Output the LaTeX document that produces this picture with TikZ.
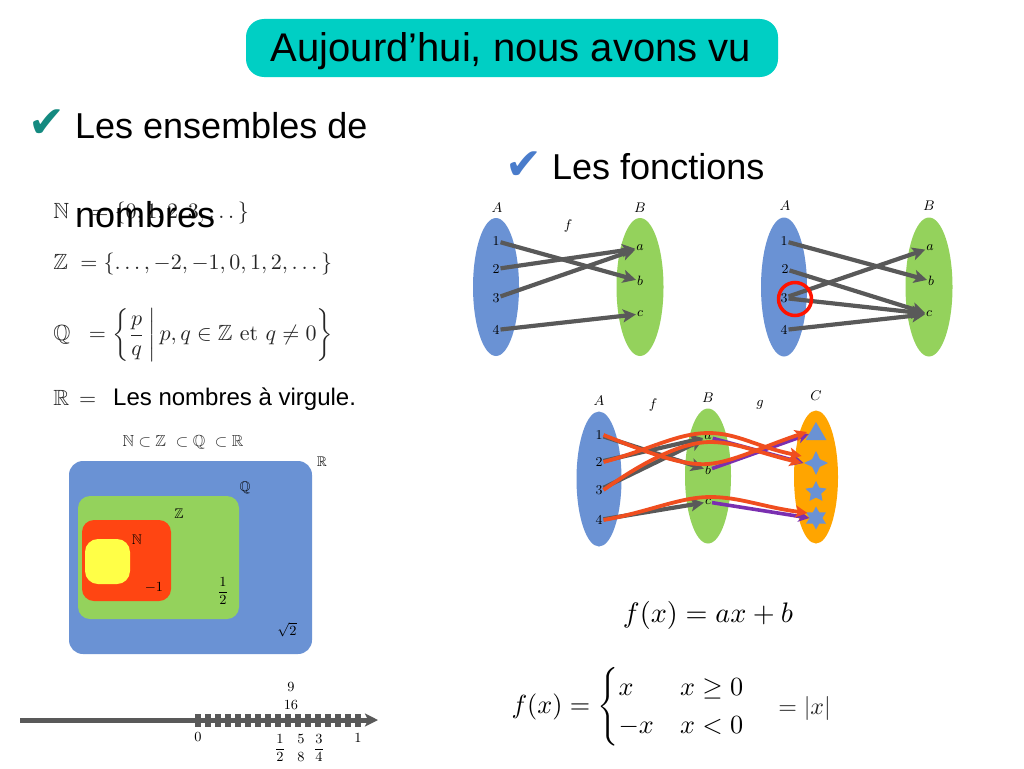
\documentclass[tikz,border=0pt]{standalone}
\usepackage{amsmath,amssymb}
\usepackage{fontspec}
\newfontfamily\arial{Liberation Sans}
\newfontfamily\dejavu{DejaVu Sans}
\usetikzlibrary{arrows.meta,shapes.geometric,shapes.misc,calc}
\definecolor{cblue}{HTML}{6A92D4}
\definecolor{cgreen}{HTML}{94D25C}
\definecolor{cred}{HTML}{FF4512}
\definecolor{cyel}{HTML}{FFFF47}
\definecolor{corange}{HTML}{FFA500}
\definecolor{cteal}{HTML}{00CFC4}
\definecolor{cgray}{HTML}{595959}
\definecolor{cpurple}{HTML}{7A2FB0}
\definecolor{cline}{HTML}{F04E1F}
\definecolor{ckteal}{HTML}{148A80}
\definecolor{ckblue}{HTML}{4A7CCB}
\tikzset{
  x=1pt,y=-1pt,
  setell/.style={ellipse,draw=none,minimum width=#1,inner sep=0pt},
  elt/.style={inner sep=0.5pt,scale=1.5,font=\small},
  lab/.style={inner sep=0pt,scale=1.55,font=\small},
  bigtext/.style={inner sep=0pt,anchor=base west,font=\arial\fontsize{36}{40}\selectfont},
  checkm/.style={inner sep=0pt,font=\dejavu\fontsize{44}{46}\selectfont},
  mathl/.style={inner sep=0pt,anchor=west,scale=2.2,text=black!85},
  flow/.style={line width=4.2pt,draw=cgray,-{Stealth[length=13pt,width=13pt,inset=3pt]}},
  flowp/.style={line width=3.6pt,draw=cpurple,-{Stealth[length=11pt,width=11pt,inset=3pt]}},
  flowr/.style={line width=3.8pt,draw=cline,-{Stealth[length=12pt,width=12pt,inset=3pt]}},
  area/.style={draw=none,inner sep=0pt,rounded corners=#1},
  setmark/.style={fill=cblue,draw=none,inner sep=0pt},
}
\begin{document}
\begin{tikzpicture}
\useasboundingbox (0,0) rectangle (1024,768);
\fill[white] (0,0) rectangle (1024,768);

% title
\node[fill=cteal,rounded corners=18pt,minimum width=532pt,minimum height=58pt,inner sep=0pt] (title) at (512,48) {};
\node[inner sep=0pt,font=\arial\fontsize{40}{44}\selectfont] (titletext) at (511,51) {Aujourd’hui, nous avons vu};

% left heading
\node[checkm,text=ckteal] (ck1) at (47,124) {✔};
\node[bigtext] (h1) at (75,138.5) {Les ensembles de};

% math list
\node[mathl] (mN) at (53,213) {$\mathbb{N}\;\;\,=\{0,1,2,3,\dots\}$};
\node[mathl] (mZ) at (53,264) {$\mathbb{Z}\;=\{\dots,-2,-1,0,1,2,\dots\}$};
\node[mathl] (mQ) at (53,335) {$\mathbb{Q}\;\;=\left\{\dfrac{p}{q}\,\middle|\,p,q\in\mathbb{Z}\ \mathrm{et}\ q\neq0\right\}$};
\node[mathl] (mR) at (53,398) {$\mathbb{R}\,=$};
\node[inner sep=0pt,anchor=west,font=\arial\fontsize{24}{28}\selectfont] (tR) at (113,399) {Les nombres à virgule.};
\node[bigtext] (h1b) at (75,227) {nombres};

% right heading
\node[checkm,text=ckblue] (ck2) at (524,166) {✔};
\node[bigtext] (h2) at (552,179.5) {Les fonctions};

% ---- diagram 1
\node[setell=46pt,minimum height=138pt,fill=cblue] (A1) at (496,287) {};
\node[setell=47pt,minimum height=138pt,fill=cgreen] (B1) at (640,287) {};
\node[lab] (lA1) at (497,208) {$A$};
\node[lab] (lB1) at (640,208) {$B$};
\node[lab] (lf1) at (568,226) {$f$};
\node[elt] (a1) at (496,241) {1};
\node[elt] (a2) at (496,269) {2};
\node[elt] (a3) at (496,298) {3};
\node[elt] (a4) at (496,330) {4};
\node[elt] (b1) at (640,248) {$a$};
\node[elt] (b2) at (640,281) {$b$};
\node[elt] (b3) at (640,314) {$c$};
\draw[flow] (a1) -- (b2);
\draw[flow] (a2) -- (b1);
\draw[flow] (a3) -- (b1);
\draw[flow] (a4) -- (b3);

% ---- diagram 2
\node[setell=46pt,minimum height=139pt,fill=cblue] (A2) at (784,287) {};
\node[setell=47pt,minimum height=139pt,fill=cgreen] (B2) at (929,287) {};
\node[lab] (lA2) at (785,206) {$A$};
\node[lab] (lB2) at (929,206) {$B$};
\node[elt] (c1) at (784,241) {1};
\node[elt] (c2) at (785,269) {2};
\node[elt] (c3) at (784,298) {3};
\node[elt] (c4) at (784,330) {4};
\node[elt] (d1) at (930,248) {$a$};
\node[elt] (d2) at (931,281) {$b$};
\node[elt] (d3) at (929,314) {$c$};
\draw[flow] (c1) -- (d2);
\draw[flow] (c2) -- (d3);
\draw[flow] (c3) -- (d1);
\draw[flow] (c3) -- (d3);
\draw[flow] (c4) -- (d3);
\node[circle,draw=red!85!orange,line width=3.5pt,minimum size=33pt,inner sep=0pt] (ring) at (795,299) {};

% ---- diagram 3
\node[setell=45pt,minimum height=135pt,fill=cblue] (A3) at (599,479) {};
\node[setell=46pt,minimum height=135pt,fill=cgreen] (B3) at (708,476) {};
\node[setell=44pt,minimum height=133pt,fill=corange] (C3) at (816,477) {};
\node[lab] (lA3) at (599,401) {$A$};
\node[lab] (lf3) at (653,405) {$f$};
\node[lab] (lB3) at (708,398) {$B$};
\node[lab] (lg3) at (760,405) {$g$};
\node[lab] (lC3) at (816,396) {$C$};
\node[elt] (e1) at (599,435) {1};
\node[elt] (e2) at (599,462) {2};
\node[elt] (e3) at (599,490) {3};
\node[elt] (e4) at (599,520) {4};
\node[elt] (f1) at (708,437) {$a$};
\node[elt] (f2) at (708,470) {$b$};
\node[elt] (f3) at (708,502) {$c$};
\node[setmark,regular polygon,regular polygon sides=3,minimum size=24pt] (g1) at (816,434) {};
\node[setmark,star,star points=4,star point ratio=2.2,minimum size=24pt] (g2) at (816,463) {};
\node[setmark,star,star points=5,star point ratio=2,minimum size=22pt] (g3) at (816,492) {};
\node[setmark,star,star points=6,star point ratio=1.8,minimum size=23pt] (g4) at (816,518) {};
\draw[flow] (e1) -- (f2);
\draw[flow] (e2) -- (f1);
\draw[flow] (e3) -- (f1);
\draw[flow] (e4) -- (f3);
\draw[flowp] (f1) -- (g2.west);
\draw[flowp] (f2) -- (g1.west);
\draw[flowp] (f3) -- (g4.west);
\draw[flowr] (e1.east) .. controls +(45,18) and +(-25,2) .. ($(f2.center)+(0,-6)$) .. controls +(25,-2) and +(-45,15) .. ($(g1.west)+(-2,-2)$);
\draw[flowr] (e2.east) .. controls +(45,-12) and +(-30,0) .. ($(f1.center)+(0,-4)$) .. controls +(30,0) and +(-45,-9) .. ($(g2.west)+(-2,-7)$);
\draw[flowr] (e3.east) .. controls +(45,-32) and +(-25,0) .. ($(f1.center)+(2,5)$) .. controls +(25,0) and +(-45,-11) .. ($(g2.west)+(-2,0)$);
\draw[flowr] (e4.east) .. controls +(45,-8) and +(-30,0) .. ($(f3.center)+(2,-5)$) .. controls +(30,0) and +(-45,-6) .. ($(g4.west)+(-2,-5)$);

% ---- sets
\node[inner sep=0pt,scale=1.6,text=black!85] (incl) at (183,442) {$\mathbb{N}\subset\mathbb{Z}\ \subset\mathbb{Q}\ \subset\mathbb{R}$};
\node[area=14pt,fill=cblue,minimum width=243pt,minimum height=193pt] (sR) at (190.5,557.5) {};
\node[area=12pt,fill=cgreen,minimum width=161pt,minimum height=123pt] (sZ) at (158.5,557.5) {};
\node[area=12pt,fill=cred,minimum width=89pt,minimum height=81pt] (sN) at (126.5,560.5) {};
\node[area=13pt,fill=cyel,minimum width=45pt,minimum height=45pt] (sY) at (107.5,561.5) {};
\node[lab] (lR) at (322,462) {$\mathbb{R}$};
\node[lab] (lQ) at (245,488) {$\mathbb{Q}$};
\node[lab] (lZ) at (179,514) {$\mathbb{Z}$};
\node[lab] (lN) at (137,540) {$\mathbb{N}$};
\node[lab] (lm) at (154,588) {$-1$};
\node[lab] (lh) at (223,591) {$\dfrac{1}{2}$};
\node[lab] (lr) at (287,630) {$\sqrt{2}$};

% ---- number line
\coordinate (ls) at (20,720);
\coordinate (le) at (378,720);
\draw[flow,line width=5pt] (ls) -- (le);
\foreach \i in {0,...,16} {
  \fill[cgray] ({198+10*\i-2.8},713.5) rectangle ({198+10*\i+2.8},726.5);
}
\node[lab] (t0) at (198,737) {0};
\node[lab] (t1) at (358,738) {1};
\node[lab] (th) at (280,748) {$\dfrac{1}{2}$};
\node[lab] (te) at (301,748) {$\genfrac{}{}{0pt}{0}{5}{8}$};
\node[lab] (tq) at (319,748) {$\dfrac{3}{4}$};
\node[lab] (ts) at (291,696) {$\genfrac{}{}{0pt}{0}{9}{16}$};

% ---- formulas
\node[inner sep=0pt,scale=2.82] (fa) at (708,615) {$f(x)=ax+b$};
\node[inner sep=0pt,anchor=west,scale=2.62] (fb) at (511,707) {$f(x)=\begin{cases} x & x\ge0\\ -x & x<0\end{cases}$};
\node[inner sep=0pt,anchor=west,scale=2.4,text=black!85] (fc) at (778,708) {$=|x|$};
\end{tikzpicture}
\end{document}
